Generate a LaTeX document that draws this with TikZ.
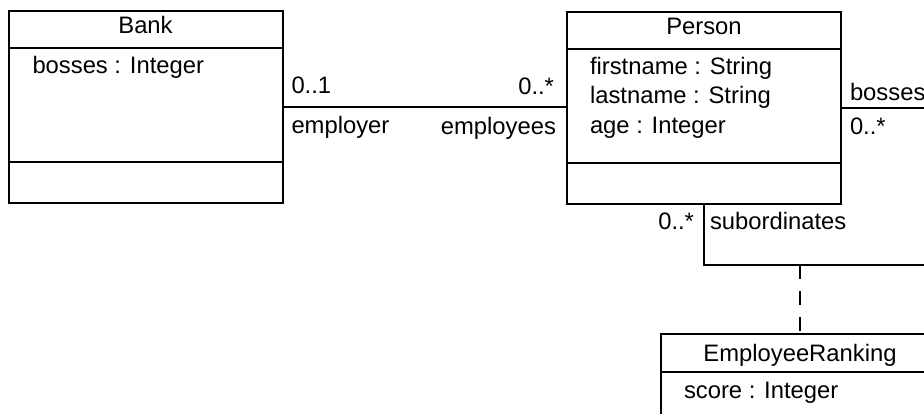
\documentclass[tikz,border=0pt]{standalone}
\usepackage{fontspec}
\setmainfont{Liberation Sans}
\usetikzlibrary{positioning}
\tikzset{
  umlclass/.style={draw, rectangle, inner sep=0pt, outer sep=0pt, anchor=north west},
  umltext/.style={inner sep=0pt, font=\fontsize{23.8}{29.5}\selectfont},
}

\begin{document}
\begin{tikzpicture}[x=1pt,y=1pt,line width=2pt]
    \useasboundingbox (0,0) rectangle (924,-414);
    \clip (0,0) rectangle (924,-414);
    % class boxes
    \node[umlclass, minimum width=274pt, minimum height=192pt] (bank) at (8.5,-11.5) {};
    \node[umlclass, minimum width=274pt, minimum height=192pt] (person) at (567,-12.5) {};
    \node[umlclass, minimum width=278pt, minimum height=140pt] (ranking) at (661,-334) {};
    % compartments
    \draw ([yshift=-36.5pt]bank.north west) -- ([yshift=-36.5pt]bank.north east);
    \draw ([yshift=41pt]bank.south west) -- ([yshift=41pt]bank.south east);
    \draw ([yshift=-36.5pt]person.north west) -- ([yshift=-36.5pt]person.north east);
    \draw ([yshift=41pt]person.south west) -- ([yshift=41pt]person.south east);
    \draw ([yshift=-38pt]ranking.north west) -- ([yshift=-38pt]ranking.north east);
    % names and attributes
    \node[umltext, anchor=base] (bankname) at ([yshift=-22pt]bank.north) {Bank};
    \node[umltext, anchor=base west] (bankattr)
        at ([xshift=23pt,yshift=-62pt]bank.north west) {bosses : Integer};
    \node[umltext, anchor=base] (personname) at ([yshift=-22pt]person.north) {Person};
    \node[umltext, anchor=base west] (firstname)
        at ([xshift=22pt,yshift=-62pt]person.north west) {firstname : String};
    \node[umltext, anchor=base west] (lastname)
        at ([yshift=-29.5pt]firstname.base west) {lastname : String};
    \node[umltext, anchor=base west] (age)
        at ([yshift=-29.5pt]lastname.base west) {age : Integer};
    \node[umltext, anchor=base] (rankingname) at ([yshift=-27pt]ranking.north) {EmployeeRanking};
    \node[umltext, anchor=base west] (rankingattr)
        at ([xshift=22pt,yshift=-64pt]ranking.north west) {score : Integer};
    % bank -- person
    \draw (bank.east) -- (bank.east -| person.west);
    \node[umltext, anchor=base west] (employermult) at ([xshift=8pt,yshift=14pt]bank.east) {0..1};
    \node[umltext, anchor=base west] (employerrole) at ([xshift=8pt,yshift=-26pt]bank.east) {employer};
    \node[umltext, anchor=base east] (employeesmult) at ([xshift=-12pt,yshift=14pt]person.west) {0..*};
    \node[umltext, anchor=base east] (employeesrole) at ([xshift=-10pt,yshift=-26pt]person.west) {employees};
    % person -- person
    \coordinate (loopcorner) at (960,-265);
    \draw (person.east) -| (loopcorner) -| (person.south);
    \node[umltext, anchor=base west] (bossesrole) at ([xshift=8pt,yshift=8pt]person.east) {bosses};
    \node[umltext, anchor=base west] (bossesmult) at ([xshift=8pt,yshift=-26pt]person.east) {0..*};
    \node[umltext, anchor=base east] (subordmult) at ([xshift=-9pt,yshift=-25pt]person.south) {0..*};
    \node[umltext, anchor=base west] (subordrole) at ([xshift=5pt,yshift=-25pt]person.south) {subordinates};
    % association class
    \draw[dash pattern=on 14pt off 12pt] (ranking.north |- loopcorner) -- (ranking.north);
\end{tikzpicture}
\end{document}
